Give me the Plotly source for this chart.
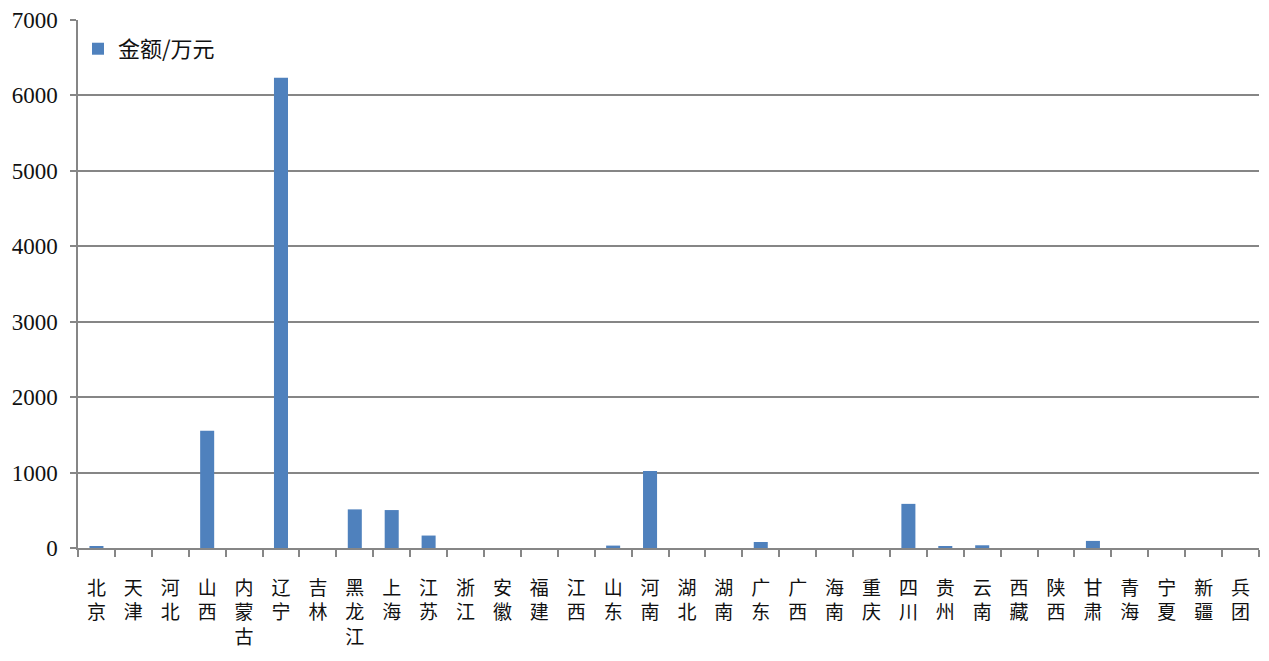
import plotly.graph_objects as go

provinces = ["北京", "天津", "河北", "山西", "内蒙古", "辽宁", "吉林", "黑龙江", "上海", "江苏",
             "浙江", "安徽", "福建", "江西", "山东", "河南", "湖北", "湖南", "广东", "广西",
             "海南", "重庆", "四川", "贵州", "云南", "西藏", "陕西", "甘肃", "青海", "宁夏",
             "新疆", "兵团"]
amounts = [22, 0, 0, 1556, 0, 6236, 0, 512, 503, 165,
           0, 0, 0, 0, 32, 1020, 0, 0, 80, 0,
           0, 0, 585, 22, 36, 0, 0, 94, 0, 0,
           0, 0]
y_ticks = [0, 1000, 2000, 3000, 4000, 5000, 6000, 7000]

labels = ["<br>".join(list(p)) for p in provinces]

fig = go.Figure()
fig.add_trace(go.Bar(x=labels, y=amounts, name="金额/万元", marker_color="#4F81BD",
                     marker_line_width=0))

fig.update_layout(
    width=1253, height=645,
    margin=dict(l=70, r=2, t=12, b=105, autoexpand=False),
    plot_bgcolor="white", paper_bgcolor="white",
    bargap=0.62,
    showlegend=True,
    legend=dict(x=0.0, y=0.985, xanchor="left", yanchor="top",
                font=dict(family="Noto Sans CJK SC", size=22, color="#111"),
                bgcolor="rgba(0,0,0,0)"),
    font=dict(family="Liberation Serif", color="#111"),
)
fig.update_xaxes(
    type="category", tickson="boundaries", ticks="outside", ticklen=7,
    tickcolor="#868686", tickwidth=1.5,
    showline=True, linecolor="#868686", linewidth=1.5,
    tickfont=dict(family="Noto Sans CJK SC", size=19, color="#111"),
    ticklabelstandoff=22,
    showgrid=False, automargin=False,
)
fig.update_yaxes(
    range=[0, 7000], tickvals=y_ticks, ticks="outside", ticklen=6,
    tickcolor="#868686", tickwidth=1.5,
    showline=True, linecolor="#868686", linewidth=1.5,
    showgrid=True, gridcolor="#868686", gridwidth=1.5,
    tickfont=dict(family="Liberation Serif", size=23, color="#111"),
    ticklabelstandoff=8,
    zeroline=False, automargin=False,
)
fig.write_html("out.html")
